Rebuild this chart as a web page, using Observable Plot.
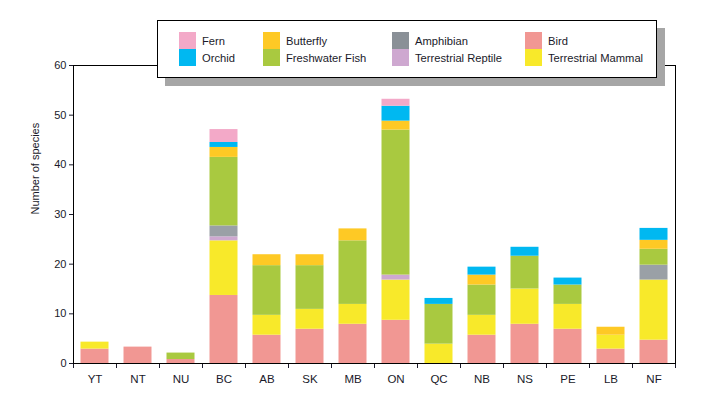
<!DOCTYPE html>
<html>
<head>
<meta charset="utf-8">
<script src="https://cdn.jsdelivr.net/npm/d3@7"></script>
<script src="https://cdn.jsdelivr.net/npm/@observablehq/plot@0.6"></script>
<style>
  html, body { margin: 0; padding: 0; background: #fff; }
  #wrap { position: relative; width: 703px; height: 396px; font-family: "Liberation Sans", Arial, sans-serif; }
  #legend {
    position: absolute; left: 157px; top: 20px; width: 498px; height: 56px;
    background: #fff; border: 1px solid #000; box-shadow: 8px 8px 0 #a6a6a6;
  }
  #legend .grid {
    position: absolute; left: 21px; top: 11px;
    display: grid; grid-template-columns: 84px 129px 133px auto; grid-auto-flow: column; grid-template-rows: 17px 17px;
  }
  .item { display: flex; align-items: center; font-size: 11.2px; color: #1a1a2a; white-space: nowrap; }
  .sw { width: 17px; height: 17px; margin-right: 6px; flex: none; }
</style>
</head>
<body>
<div id="wrap">
  <div id="chart"></div>
  <div id="legend"><div class="grid" id="lg"></div></div>
</div>
<script>
const provinces = ["YT","NT","NU","BC","AB","SK","MB","ON","QC","NB","NS","PE","LB","NF"];
const bird      = [2.9, 3.3, 0.8, 13.7, 5.7, 6.9, 7.9, 8.7, 0,   5.7, 7.9, 6.9, 2.9, 4.7];
const mammal    = [1.4, 0,   0,   11.0, 4.0, 4.0, 4.0, 8.1, 3.9, 4.0, 7.1, 5.0, 2.8, 12.1];
const reptile   = [0,   0,   0,   0.8,  0,   0,   0,   1.0, 0,   0,   0,   0,   0,   0];
const amphibian = [0,   0,   0,   2.2,  0,   0,   0,   0,   0,   0,   0,   0,   0,   3.0];
const fish      = [0,   0,   1.3, 13.8, 10.0,8.8, 12.8,29.2,8.0, 6.1, 6.6, 3.9, 0,   3.2];
const butterfly = [0,   0,   0,   2.0,  2.2, 2.2, 2.4, 1.8, 0,   2.0, 0,   0,   1.6, 1.8];
const orchid    = [0,   0,   0,   1.0,  0,   0,   0,   3.0, 1.2, 1.6, 1.8, 1.4, 0,   2.4];
const fern      = [0,   0,   0,   2.6,  0,   0,   0,   1.4, 0,   0,   0,   0,   0,   0];

// stacking order bottom -> top
const stackOrder = ["Bird","Terrestrial Mammal","Terrestrial Reptile","Amphibian","Freshwater Fish","Butterfly","Orchid","Fern"];
const seriesValues = [bird, mammal, reptile, amphibian, fish, butterfly, orchid, fern];
const colors = ["#f19793","#f8e92a","#cea8d0","#9aa0a6","#a9c940","#fec925","#00b8f1","#f3a9c8"];
// legend layout order (column-wise)
const legendOrder = ["Fern","Orchid","Butterfly","Freshwater Fish","Amphibian","Terrestrial Reptile","Bird","Terrestrial Mammal"];
const legendColors = {"Amphibian":"#8a9097"};
const yTicks = [0,10,20,30,40,50,60];

const rows = [];
stackOrder.forEach((s, k) => {
  seriesValues[k].forEach((v, i) => { if (v > 0) rows.push({i, province: provinces[i], species: s, value: v}); });
});

const chart = Plot.plot({
  width: 703,
  height: 396,
  marginLeft: 73,
  marginRight: 28,
  marginTop: 65,
  marginBottom: 33,
  style: {fontFamily: '"Liberation Sans", Arial, sans-serif', fontSize: "11px", color: "#1a1a2a", background: "white"},
  x: {domain: [0, provinces.length], ticks: d3.range(provinces.length + 1), tickFormat: () => "", tickSize: 5, label: null},
  y: {domain: [0, 60], ticks: yTicks, tickSize: 4, tickPadding: 3, label: null},
  color: {domain: stackOrder, range: colors},
  marks: [
    Plot.rectY(rows, {x1: "i", x2: d => d.i + 1, y: "value", fill: "species", order: stackOrder, insetLeft: 7.5, insetRight: 7.5}),
    Plot.frame({stroke: "black"}),
    Plot.text(provinces, {x: (d, i) => i + 0.5, text: d => d, frameAnchor: "bottom", dy: 19, fontSize: 11.5}),
    Plot.text(["Number of species"], {frameAnchor: "left", dx: -38, rotate: -90, fontSize: 11})
  ]
});
document.getElementById("chart").appendChild(chart);

const lg = document.getElementById("lg");
legendOrder.forEach(s => {
  const c = legendColors[s] || colors[stackOrder.indexOf(s)];
  const it = document.createElement("div");
  it.className = "item";
  it.innerHTML = `<span class="sw" style="background:${c}"></span><span>${s}</span>`;
  lg.appendChild(it);
});
</script>
</body>
</html>
